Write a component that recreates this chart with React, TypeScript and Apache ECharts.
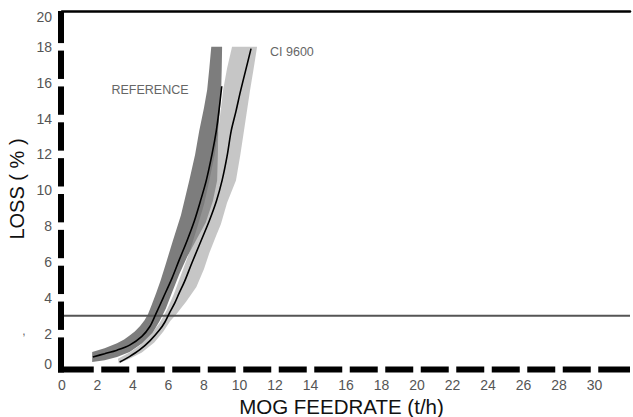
import React, { useEffect, useRef } from "react";
import * as echarts from "echarts";

// ---- data ----
const xTickValues = [0, 2, 4, 6, 8, 10, 12, 14, 16, 18, 20, 22, 24, 26, 28, 30];
const yTickValues = [0, 2, 4, 6, 8, 10, 12, 14, 16, 18, 20];
const xMax = 32;
const yMax = 20;
const thresholdLoss = 3;

const refLineX = [1.74, 2.4, 3.1, 3.81, 4.5, 4.95, 5.27, 5.7, 6.2, 6.6, 7.05, 7.46, 7.8, 8.13, 8.45, 8.69, 8.85, 9.0];
const refLineY = [0.7, 0.88, 1.08, 1.36, 1.85, 2.4, 3.06, 4.0, 5.1, 6.1, 7.2, 8.3, 9.4, 10.55, 12.0, 13.3, 14.5, 15.8];

const ciLineX = [3.25, 3.8, 4.37, 4.95, 5.49, 5.8, 6.05, 6.35, 6.6, 6.9, 7.3, 7.8, 8.3, 8.7, 9.02, 9.3, 9.53, 9.8, 10.05, 10.35, 10.65];
const ciLineY = [0.42, 0.72, 1.09, 1.6, 2.2, 2.65, 3.15, 3.7, 4.26, 4.9, 5.9, 7.1, 8.3, 9.4, 10.55, 11.9, 13.3, 14.4, 15.5, 16.7, 17.9];

const refBandLeft = [
  [1.7, 0.97], [2.4, 1.18], [3.1, 1.47], [3.5, 1.68], [3.81, 1.9], [4.1, 2.12], [4.4, 2.42], [4.65, 2.75],
  [4.85, 3.1], [5.05, 3.6], [5.3, 4.25], [5.55, 4.95], [5.85, 5.9], [6.25, 7.2], [6.7, 8.6], [7.17, 10.55],
  [7.5, 12.0], [7.73, 13.3], [8.0, 14.6], [8.18, 15.6], [8.3, 16.8], [8.41, 18],
];
const refBandRight = [
  [1.7, 0.42], [2.4, 0.52], [3.1, 0.7], [3.81, 0.97], [4.5, 1.45], [5.1, 2.03], [5.5, 2.7], [5.85, 3.4],
  [6.2, 4.3], [6.6, 5.3], [7.06, 6.3], [7.6, 7.3], [8.1, 8.2], [8.5, 9.4], [8.74, 10.55], [8.78, 12.0],
  [8.8, 13.3], [8.9, 14.5], [8.97, 15.6], [9.0, 16.8], [9.02, 18],
];
const ciBandLeft = [
  [3.15, 0.6], [3.8, 0.95], [4.4, 1.35], [5.0, 1.95], [5.5, 2.6], [5.9, 3.3], [6.3, 4.2], [6.75, 5.4],
  [7.2, 6.6], [7.62, 7.94], [8.0, 9.2], [8.3, 10.55], [8.6, 12.0], [8.8, 13.3], [9.08, 15.6], [9.3, 16.8], [9.58, 18],
];
const ciBandRight = [
  [3.2, 0.33], [3.8, 0.6], [4.5, 0.95], [5.2, 1.5], [5.7, 2.1], [6.1, 2.7], [6.45, 3.1], [7.0, 3.8],
  [7.57, 4.6], [8.0, 5.6], [8.3, 6.5], [8.7, 7.5], [8.95, 8.1], [9.3, 9.3], [9.8, 10.55], [10.05, 12.0],
  [10.25, 13.3], [10.6, 15.6], [10.8, 16.8], [10.99, 18],
];

// ---- layout / style ----
const W = 633;
const H = 417;
const GRID = { left: 62, right: 0, top: 11, bottom: 47.5 };
const FONT = "'Liberation Sans', Arial, Helvetica, sans-serif";
const AXIS_HALF = 3;
const AXIS_GAP = 7.5;

function bandSeries(left: number[][], right: number[][], fill: string, z: number) {
  return {
    type: "custom",
    coordinateSystem: "cartesian2d",
    silent: true,
    z,
    data: [[0, 0]],
    renderItem: (_params: any, api: any) => {
      const pts = [
        ...left.map((p) => api.coord(p)),
        ...right.slice().reverse().map((p) => api.coord(p)),
      ];
      return { type: "polygon", shape: { points: pts }, style: { fill } };
    },
  };
}

// dashed axis lines: one dash between consecutive ticks, gaps centred on ticks
const axisSeries = {
  type: "custom",
  coordinateSystem: "cartesian2d",
  silent: true,
  clip: false,
  z: 6,
  data: [[0, 0]],
  renderItem: (_params: any, api: any) => {
    const children: any[] = [];
    const [x0, y0] = api.coord([0, 0]);
    const xLine = x0 - 1;
    const ys = yTickValues;
    for (let k = 0; k < ys.length - 1; k++) {
      const yLow = api.coord([0, ys[k]])[1];
      const yHigh = api.coord([0, ys[k + 1]])[1];
      const bottom = k === 0 ? y0 + AXIS_HALF : yLow - AXIS_GAP / 2;
      const top = k === ys.length - 2 ? yHigh : yHigh + AXIS_GAP / 2;
      children.push({
        type: "rect",
        shape: { x: xLine - AXIS_HALF, y: top, width: AXIS_HALF * 2, height: bottom - top },
        style: { fill: "#000" },
      });
    }
    const xs = [...xTickValues, xMax];
    for (let k = 0; k < xs.length - 1; k++) {
      const xa = api.coord([xs[k], 0])[0];
      const xb = api.coord([xs[k + 1], 0])[0];
      const left = k === 0 ? xLine - AXIS_HALF : xa + AXIS_GAP / 2;
      const right = k === xs.length - 2 ? xb : xb - AXIS_GAP / 2;
      children.push({
        type: "rect",
        shape: { x: left, y: y0 - AXIS_HALF, width: right - left, height: AXIS_HALF * 2 },
        style: { fill: "#000" },
      });
    }
    return { type: "group", children };
  },
};

export default function App() {
  const ref = useRef<HTMLDivElement>(null);

  useEffect(() => {
    if (!ref.current) return;
    const chart = echarts.init(ref.current, null, { renderer: "svg" });

    chart.setOption({
      animation: false,
      backgroundColor: "#ffffff",
      grid: { left: GRID.left, right: GRID.right, top: GRID.top, bottom: GRID.bottom, containLabel: false },
      xAxis: [
        {
          type: "value",
          min: 0,
          max: xMax,
          interval: 2,
          axisLine: { show: false },
          axisTick: { show: false },
          splitLine: { show: false },
          axisLabel: {
            color: "#555",
            fontSize: 14,
            fontFamily: FONT,
            margin: 8,
            formatter: (v: number) => (xTickValues.includes(v) ? String(v) : ""),
          },
        },
        {
          type: "value",
          position: "top",
          min: 0,
          max: xMax,
          axisLine: { show: true, onZero: false, lineStyle: { color: "#000", width: 2.5 } },
          axisTick: { show: false },
          splitLine: { show: false },
          axisLabel: { show: false },
        },
      ],
      yAxis: {
        type: "value",
        min: 0,
        max: yMax,
        interval: 2,
        axisLine: { show: false },
        axisTick: { show: false },
        splitLine: { show: false },
        axisLabel: {
          margin: 10,
          formatter: (v: number) => {
            if (!yTickValues.includes(v)) return "";
            if (v === yTickValues[0]) return `{lo|${v}}`;
            if (v === yTickValues[yTickValues.length - 1]) return `{hi|${v}}`;
            return `{n|${v}}`;
          },
          rich: {
            n: { color: "#555", fontSize: 14, fontFamily: FONT },
            lo: { color: "#555", fontSize: 14, fontFamily: FONT, padding: [0, 0, 12, 0] },
            hi: { color: "#555", fontSize: 14, fontFamily: FONT, padding: [12, 0, 0, 0] },
          },
        },
      },
      series: [
        bandSeries(refBandLeft, refBandRight, "#7d7d7d", 1),
        bandSeries(ciBandLeft, ciBandRight, "rgba(160,160,160,0.6)", 2),
        {
          type: "line",
          silent: true,
          z: 3,
          showSymbol: false,
          data: [[0, thresholdLoss], [xMax, thresholdLoss]],
          lineStyle: { color: "#555", width: 1.8 },
        },
        {
          type: "line",
          silent: true,
          z: 4,
          showSymbol: false,
          smooth: 0.3,
          data: refLineX.map((x, i) => [x, refLineY[i]]),
          lineStyle: { color: "#000", width: 1.6 },
        },
        {
          type: "line",
          silent: true,
          z: 4,
          showSymbol: false,
          smooth: 0.3,
          data: ciLineX.map((x, i) => [x, ciLineY[i]]),
          lineStyle: { color: "#000", width: 1.6 },
        },
        axisSeries,
      ],
      graphic: [
        {
          type: "text",
          x: 17,
          y: 189,
          rotation: Math.PI / 2,
          style: { text: "LOSS ( % )", fontSize: 20, fontFamily: FONT, fill: "#111", align: "center", verticalAlign: "middle" },
        },
        {
          type: "text",
          x: 341.5,
          y: 406,
          style: { text: "MOG FEEDRATE (t/h)", fontSize: 20.5, fontFamily: FONT, fill: "#111", align: "center", verticalAlign: "middle" },
        },
        {
          type: "text",
          x: 150,
          y: 90,
          style: { text: "REFERENCE", fontSize: 12.5, fontFamily: FONT, fill: "#666", align: "center", verticalAlign: "middle" },
        },
        {
          type: "text",
          x: 270,
          y: 52,
          style: { text: "CI 9600", fontSize: 12.5, fontFamily: FONT, fill: "#666", align: "left", verticalAlign: "middle" },
        },
        {
          type: "text",
          x: 24,
          y: 331,
          style: { text: ",", fontSize: 12, fontFamily: FONT, fill: "#666", align: "center", verticalAlign: "middle" },
        },
      ],
    });
    return () => chart.dispose();
  }, []);

  return (
    <div
      ref={ref}
      style={{ position: "fixed", left: 0, top: 0, width: W, height: H, background: "#fff" }}
    />
  );
}
